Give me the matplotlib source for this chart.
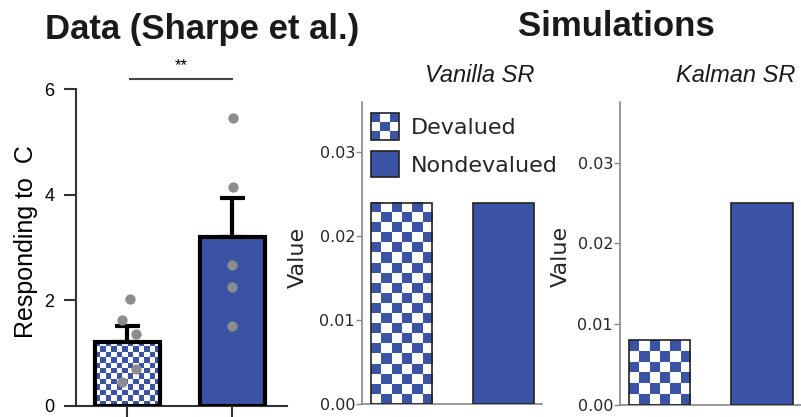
import numpy as np
import matplotlib
matplotlib.use("Agg")
import matplotlib.pyplot as plt
from matplotlib.colors import ListedColormap
from matplotlib.legend_handler import HandlerBase
from matplotlib.patches import Rectangle

# --- Sharpe et al.: responding to C (group means, SEM, individual animals) ---
conditions = ["Devalued", "Nondevalued"]
sharpe_means = [1.22, 3.20]
sharpe_sem = [0.30, 0.73]
sharpe_devalued_pts = [2.02, 1.63, 1.36, 0.70, 0.46]
sharpe_nondevalued_pts = [5.45, 4.15, 2.67, 2.26, 1.52]
devalued_jitter = [0.02, -0.05, 0.085, 0.085, -0.05]
nondevalued_jitter = [0.01, 0.01, 0.0, 0.0, 0.0]
data_ticks = [0, 2, 4, 6]
significance = "**"

# --- simulated values ---
vanilla_sr = [0.024, 0.024]
kalman_sr = [0.008, 0.025]
sim_ticks = [0.00, 0.01, 0.02, 0.03]

BLUE = "#3a53a4"
HELV = "Liberation Sans"
W, H = 801, 417


def checker_fill(ax, bar, cell_px, zorder=2):
    """Paint a blue/white checkerboard inside a bar patch."""
    x0, y0 = bar.get_x(), bar.get_y()
    w, h = bar.get_width(), bar.get_height()
    p0 = ax.transData.transform((x0, y0))
    p1 = ax.transData.transform((x0 + w, y0 + h))
    ncol = max(1, int(round(abs(p1[0] - p0[0]) / cell_px)))
    nrow = max(1, int(round(abs(p1[1] - p0[1]) / cell_px)))
    ii, jj = np.indices((nrow, ncol))
    board = ((ii + jj) % 2 == 0).astype(float)
    ax.imshow(board, cmap=ListedColormap(["white", BLUE]), vmin=0, vmax=1,
              extent=(x0, x0 + w, y0, y0 + h), origin="upper",
              aspect="auto", interpolation="nearest", zorder=zorder)


class CheckerHandler(HandlerBase):
    """Legend key drawn as a small checkerboard."""

    def __init__(self, n=3, **kw):
        super().__init__(**kw)
        self.n = n

    def create_artists(self, legend, orig_handle, xdescent, ydescent,
                       width, height, fontsize, trans):
        n = self.n
        cw, ch = width / n, height / n
        arts = []
        for i in range(n):
            for j in range(n):
                fc = BLUE if (i + j) % 2 == 0 else "white"
                arts.append(Rectangle((-xdescent + j * cw, -ydescent + (n - 1 - i) * ch),
                                      cw, ch, facecolor=fc, edgecolor="none",
                                      transform=trans))
        arts.append(Rectangle((-xdescent, -ydescent), width, height,
                              facecolor="none", edgecolor="#222222", lw=1.2,
                              transform=trans))
        return arts


fig = plt.figure(figsize=(W / 100, H / 100), dpi=100)

# ---------------- data panel ----------------
axL = fig.add_axes([76 / W, 11 / H, 211 / W, 317 / H])
x = np.arange(len(conditions))
axL.set_xlim(-0.49, 1.52)
axL.set_ylim(0, 6)
barsL = axL.bar(x, sharpe_means, width=0.62, color=["none", BLUE],
                edgecolor="black", linewidth=3, zorder=3)
checker_fill(axL, barsL[0], 5.6, zorder=2)
axL.set_xlim(-0.49, 1.52)
axL.set_ylim(0, 6)
axL.errorbar(x, sharpe_means, yerr=[[0, 0], sharpe_sem], fmt="none",
             ecolor="black", elinewidth=3, capsize=9, capthick=3, zorder=2.5)
axL.scatter(x[0] + np.array(devalued_jitter), sharpe_devalued_pts, s=55,
            color="#8c8c8c", zorder=4, linewidths=0)
axL.scatter(x[1] + np.array(nondevalued_jitter), sharpe_nondevalued_pts, s=55,
            color="#8c8c8c", zorder=4, linewidths=0)
axL.plot([0.02, 1.0], [6.19, 6.19], color="#444444", lw=1.5, clip_on=False)
axL.text(0.51, 6.30, significance, ha="center", va="bottom", fontsize=12,
         family=HELV)
for s in ("top", "right"):
    axL.spines[s].set_visible(False)
for s in ("left", "bottom"):
    axL.spines[s].set_color("#333333")
    axL.spines[s].set_linewidth(1.5)
axL.set_xticks(x)
axL.set_xticklabels([])
axL.set_yticks(data_ticks)
axL.set_yticklabels([str(t) for t in data_ticks], family=HELV, fontsize=13)
axL.tick_params(length=9, width=1.5, color="#333333", pad=6.5)
axL.set_ylabel("Responding to  C", family=HELV, fontsize=18)
axL.yaxis.set_label_coords(-0.18, 0.52)

# ---------------- simulation panels ----------------
def sim_panel(rect, values, ymax):
    ax = fig.add_axes(rect)
    ax.set_xlim(-0.385, 1.38)
    ax.set_ylim(0, ymax)
    bars = ax.bar(x, values, width=0.6, color=["none", BLUE],
                  edgecolor="#222222", linewidth=1.2, zorder=3)
    checker_fill(ax, bars[0], 10.2, zorder=2)
    ax.set_xlim(-0.385, 1.38)
    ax.set_ylim(0, ymax)
    for s in ("top", "right"):
        ax.spines[s].set_visible(False)
    for s in ("left", "bottom"):
        ax.spines[s].set_color("#888888")
        ax.spines[s].set_linewidth(1.2)
    ax.set_xticks([])
    ax.set_yticks(sim_ticks)
    ax.set_yticklabels([f"{t:.2f}" for t in sim_ticks])
    ax.tick_params(axis="y", length=4, width=1, color="#888888", pad=1,
                   labelsize=11.5, labelcolor="#262626")
    ax.set_ylabel("Value", fontsize=16, color="#262626")
    return ax


axM = sim_panel([362 / W, 13 / H, 180 / W, 302 / H], vanilla_sr, max(vanilla_sr) * 1.5)
axM.yaxis.set_label_coords(-0.30, 0.485)
axR = sim_panel([620 / W, 12 / H, 181 / W, 303 / H], kalman_sr, max(kalman_sr) * 1.5)
axR.yaxis.set_label_coords(-0.27, 0.49)

checker_key = Rectangle((0, 0), 1, 1, facecolor=BLUE, edgecolor="#222222")
solid_key = Rectangle((0, 0), 1, 1, facecolor=BLUE, edgecolor="#222222", lw=1.2)
axM.legend([checker_key, solid_key], conditions,
           handler_map={checker_key: CheckerHandler(3)},
           loc="upper left", bbox_to_anchor=(0.05, 0.962), borderaxespad=0,
           borderpad=0, frameon=False, fontsize=16, handlelength=1.25,
           handleheight=1.45, handletextpad=0.55, labelspacing=0.5,
           labelcolor="#262626")

# ---------------- titles ----------------
fig.text(202 / W, 1 - 39 / H, "Data (Sharpe et al.)", ha="center", va="baseline",
         family=HELV, fontweight="bold", fontsize=25, color="#1a1a1a")
fig.text(616 / W, 1 - 36 / H, "Simulations", ha="center", va="baseline",
         family=HELV, fontweight="bold", fontsize=25, color="#1a1a1a")
fig.text(480 / W, 1 - 82 / H, "Vanilla SR", ha="center", va="baseline",
         family=HELV, style="italic", fontsize=17, color="#1a1a1a")
fig.text(736 / W, 1 - 82 / H, "Kalman SR", ha="center", va="baseline",
         family=HELV, style="italic", fontsize=17, color="#1a1a1a")

fig.savefig("out.png", dpi=100)
